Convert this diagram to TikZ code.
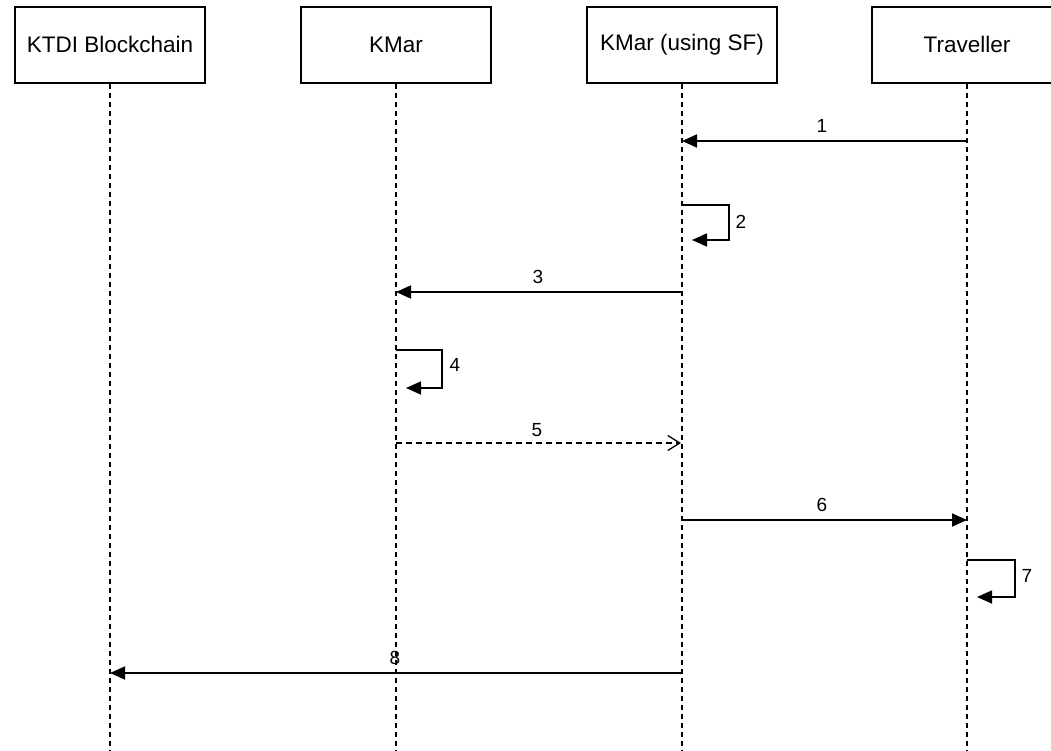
\documentclass[tikz,border=0pt]{standalone}
\usepackage{fontspec}
\setmainfont{Liberation Sans}
\usetikzlibrary{arrows.meta}
\begin{document}
\begin{tikzpicture}[x=1pt,y=-1pt,
  actor/.style={draw=black,line width=1.8pt,minimum width=190pt,minimum height=76pt,inner sep=0pt,font=\fontsize{22.5}{26}\selectfont,anchor=north},
  lifeline/.style={line width=1.4pt,dash pattern=on 5pt off 4pt},
  msg/.style={line width=1.8pt,-{Triangle[length=15pt,width=13pt]}},
  reply/.style={line width=1.3pt,dash pattern=on 6pt off 4pt,-{Straight Barb[length=12pt,width=15pt]}},
  lbl/.style={font=\fontsize{19}{22}\selectfont,inner sep=0pt}]
\useasboundingbox (0,0) rectangle (1051,751);
\begin{scope}
\clip (0,0) rectangle (1051,751);
\node[actor] (a1) at (110,6) {KTDI Blockchain};
\node[actor] (a2) at (396,6) {KMar};
\node[actor] (a3) at (682,6) {KMar (using SF)};
\node[actor] (a4) at (967,6) {Traveller};
\end{scope}
\coordinate (e1) at (110,751);
\coordinate (e2) at (396,751);
\coordinate (e3) at (682,751);
\coordinate (e4) at (967,751);
\draw[lifeline] (a1.south) -- (e1);
\draw[lifeline] (a2.south) -- (e2);
\draw[lifeline] (a3.south) -- (e3);
\draw[lifeline] (a4.south) -- (e4);
% message 1
\coordinate (m1s) at (967,141); \coordinate (m1e) at (682,141);
\draw[msg] (m1s) -- (m1e);
\node[lbl] (t1) at (822,126) {1};
% message 2 (self)
\coordinate (m2s) at (682,205); \coordinate (m2e) at (692,240);
\draw[msg] (m2s) -- (729,205) -- (729,240) -- (m2e);
\node[lbl] (t2) at (741,222) {2};
% message 3
\coordinate (m3s) at (682,292); \coordinate (m3e) at (396,292);
\draw[msg] (m3s) -- (m3e);
\node[lbl] (t3) at (538,277) {3};
% message 4 (self)
\coordinate (m4s) at (396,350); \coordinate (m4e) at (406,388);
\draw[msg] (m4s) -- (442,350) -- (442,388) -- (m4e);
\node[lbl] (t4) at (455,365) {4};
% message 5 (reply)
\coordinate (m5s) at (396,443); \coordinate (m5e) at (681,443);
\draw[reply] (m5s) -- (m5e);
\node[lbl] (t5) at (537,430) {5};
% message 6
\coordinate (m6s) at (682,520); \coordinate (m6e) at (967,520);
\draw[msg] (m6s) -- (m6e);
\node[lbl] (t6) at (822,505) {6};
% message 7 (self)
\coordinate (m7s) at (967,560); \coordinate (m7e) at (977,597);
\draw[msg] (m7s) -- (1015,560) -- (1015,597) -- (m7e);
\node[lbl] (t7) at (1027,576) {7};
% message 8
\coordinate (m8s) at (682,673); \coordinate (m8e) at (110,673);
\draw[msg] (m8s) -- (m8e);
\node[lbl] (t8) at (395,658) {8};
\end{tikzpicture}
\end{document}
